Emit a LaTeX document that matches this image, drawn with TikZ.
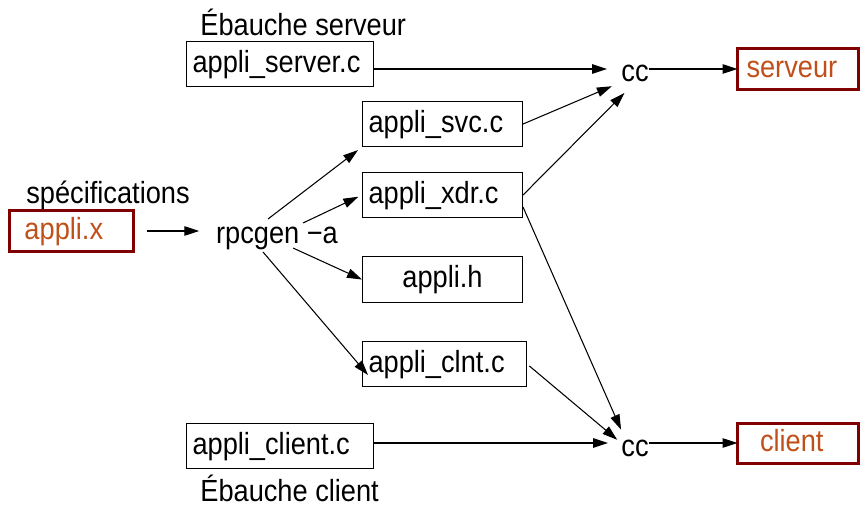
\documentclass[tikz,border=0pt]{standalone}
\usepackage{fontspec}
\setmainfont{Liberation Sans}[FakeStretch=0.89]
\usetikzlibrary{arrows.meta}
\definecolor{rpcred}{HTML}{800000}
\definecolor{rpcorange}{HTML}{C0501A}

\begin{document}
\begin{tikzpicture}[x=0.02cm,y=-0.02cm,
  font=\fontsize{17.4}{20}\selectfont,
  file/.style={draw,line width=.6pt,anchor=north west,inner xsep=1.2mm,inner ysep=0pt,
    text width=#1,align=left,minimum height=9mm,text height=12.5pt,text depth=2.9pt},
  target/.style={draw=rpcred,line width=1.8pt,text=rpcorange,anchor=north west,outer sep=0pt,
    inner ysep=0pt,text width=#1,minimum height=8.2mm,text height=12.5pt,text depth=2.9pt},
  note/.style={anchor=base west,inner sep=0pt},
  tool/.style={anchor=base,inner sep=0pt,text height=14.8pt,text depth=0pt},
  flow/.style={line width=.6pt,-{Triangle[length=3mm,width=1.9mm]}}
]
  \useasboundingbox (0,0) rectangle (861,506);

  % source and generator
  \node[note] (spechead) at (26,204) {spécifications};
  \node[target=1.88cm,inner xsep=3mm] (spec) at (9.5,210.5) {appli.x};
  \node[tool] (rpcgen) at (277,244) {rpcgen −a};

  % files
  \node[note] (servhead) at (200,36) {Ébauche serveur};
  \node[file=3.5cm] (server) at (186,41) {appli\_server.c};
  \node[file=2.96cm] (svc) at (362,101) {appli\_svc.c};
  \node[file=2.96cm] (xdr) at (362,172) {appli\_xdr.c};
  \node[file=2.96cm,align=center,minimum height=9.2mm] (hdr) at (362,256) {appli.h};
  \node[file=3.04cm] (clnt) at (362,341) {appli\_clnt.c};
  \node[file=3.5cm] (client) at (186,423) {appli\_client.c};
  \node[note] (clienthead) at (200,501) {Ébauche client};

  % compilers and results
  \node[tool] (cctop) at (635,82) {cc};
  \node[tool] (ccbot) at (635,456) {cc};
  \node[target=2.06cm,inner xsep=1.8mm] (serveur) at (737.5,48.5) {serveur};
  \node[target=1.52cm,inner xsep=4.5mm,minimum height=8mm] (clientout) at (737.5,423.5) {client};

  \draw[flow,shorten <=2.7mm,shorten >=3.3mm] (spec.east|-rpcgen.west) -- (rpcgen.west);
  \draw[flow,shorten >=1mm] ([shift={(-9,-25)}]rpcgen.base) -- (svc.south west);
  \draw[flow,shorten >=.8mm] ([shift={(26,-21)}]rpcgen.base) -- (xdr.west);
  \draw[flow] ([shift={(16,4)}]rpcgen.base) -- (hdr.west);
  \draw[flow] ([shift={(-14,8)}]rpcgen.base) -- ([shift={(6,11)}]clnt.west);

  \draw[flow,shorten >=2.8mm] (server.east|-cctop.west) -- (cctop.west);
  \draw[flow,shorten >=2mm] (svc.east) -- (cctop.south west);
  \draw[flow,shorten >=3mm] (xdr.east) -- (cctop.south);
  \draw[flow] (cctop.east) -- (cctop.east-|serveur.west);

  \draw[flow] ([shift={(0,12)}]xdr.east) -- (ccbot.north west);
  \draw[flow,shorten <=.6mm,shorten >=1mm] (clnt.east) -- (ccbot.west);
  \draw[flow,shorten >=2.6mm] (client.east|-ccbot.west) -- (ccbot.west);
  \draw[flow] (ccbot.east) -- (ccbot.east-|clientout.west);
\end{tikzpicture}
\end{document}
